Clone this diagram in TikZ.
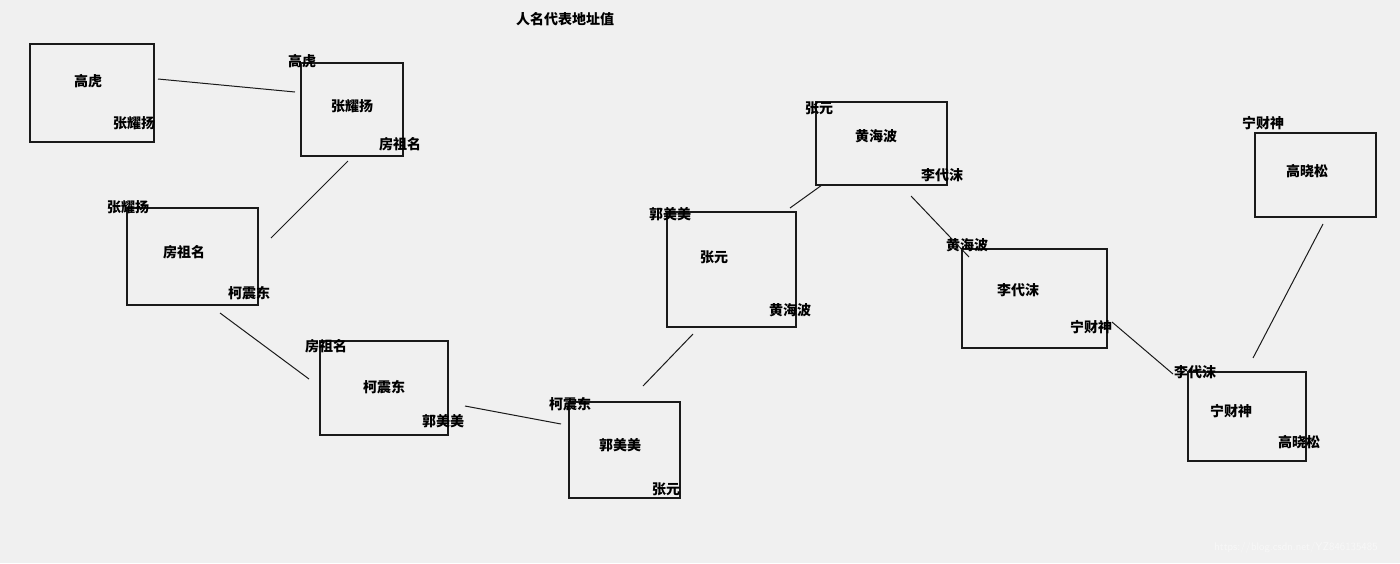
\documentclass[tikz,border=0pt]{standalone}
\usepackage{fontspec}
\newfontfamily\cjk{Noto Sans CJK SC}
\definecolor{Canvas}{HTML}{F0F0F0}
\definecolor{Ink}{HTML}{1A1A1A}
\definecolor{Mark}{HTML}{F8F8F8}
\tikzset{
  cell/.style={draw=Ink,line width=1.3pt,inner sep=0pt},
  who/.style={font=\cjk\bfseries\fontsize{14}{14}\selectfont,text=black,inner sep=0pt},
  link/.style={Ink,line width=1pt}
}
\begin{document}
\begin{tikzpicture}[x=1pt,y=-1pt]
\useasboundingbox (0,0) rectangle (1400,563);
\fill[Canvas] (0,0) rectangle (1400,563);
% boxes
\node[cell,minimum width=124,minimum height=98] (gaohu) at (92,93) {};
\node[cell,minimum width=102,minimum height=93] (zhangyy) at (352,109.5) {};
\node[cell,minimum width=131,minimum height=97] (fangzm) at (192.5,256.5) {};
\node[cell,minimum width=128,minimum height=94] (kezd) at (384,388) {};
\node[cell,minimum width=111,minimum height=96] (guomm) at (624.5,450) {};
\node[cell,minimum width=129,minimum height=115] (zhangy) at (731.5,269.5) {};
\node[cell,minimum width=131,minimum height=83] (huanghb) at (881.5,143.5) {};
\node[cell,minimum width=145,minimum height=99] (lidm) at (1034.5,298.5) {};
\node[cell,minimum width=118,minimum height=89] (ningcs) at (1247,416.5) {};
\node[cell,minimum width=121,minimum height=84] (gaoxs) at (1315.5,175) {};
% names
\node[who] (title) at (565,19) {人名代表地址值};
\foreach \t/\x/\y [count=\i] in {高虎/88/81,张耀扬/134/123,高虎/302/61,张耀扬/352/106,房祖名/400/144,
  张耀扬/128/207,房祖名/184/252,柯震东/249/293,房祖名/326/346,柯震东/384/387,郭美美/443/421,
  柯震东/570/404,郭美美/620/445,张元/666/489,郭美美/670/214,张元/714/257,黄海波/790/310,
  张元/819/108,黄海波/876/136,李代沫/942/175,黄海波/967/245,李代沫/1018/290,宁财神/1091/327,
  李代沫/1195/372,宁财神/1231/411,高晓松/1299/442,宁财神/1263/123,高晓松/1307/171}
  {\node[who] (w\i) at (\x,\y) {\t};}
% links
\coordinate (p1) at (158,79);\coordinate (q1) at (295,92);
\coordinate (p2) at (348,161);\coordinate (q2) at (271,238);
\coordinate (p3) at (220,313);\coordinate (q3) at (309,379);
\coordinate (p4) at (465,406);\coordinate (q4) at (561,424);
\coordinate (p5) at (693,334);\coordinate (q5) at (643,386);
\coordinate (p6) at (822,185);\coordinate (q6) at (790,208);
\coordinate (p7) at (911,196);\coordinate (q7) at (969,257);
\coordinate (p8) at (1112,322);\coordinate (q8) at (1173,374);
\coordinate (p9) at (1323,224);\coordinate (q9) at (1253,358);
\foreach \i in {1,...,9}{\draw[link] (p\i)--(q\i);}
\node[text=Mark,font=\sffamily\fontsize{11}{11}\selectfont,inner sep=0pt] (mark) at (1296,548) {https://blog.csdn.net/YZ846135485};
\end{tikzpicture}
\end{document}
